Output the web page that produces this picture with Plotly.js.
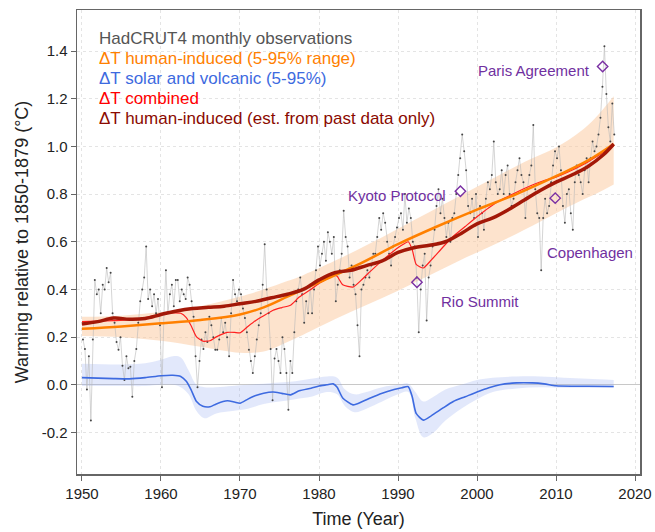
<!DOCTYPE html>
<html>
<head>
<meta charset="utf-8">
<script src="https://cdn.plot.ly/plotly-3.0.1.min.js"></script>
<style>html,body{margin:0;padding:0;background:#fff}#chart{width:655px;height:532px}</style>
</head>
<body>
<div id="chart"></div>
<script>
// HadCRUT4 observations, quarterly samples starting 1950
const obsStart = 1950;
const obsPerYear = 4;
const obsValues = [
  0.19, 0.15, -0.02, 0.12,
  -0.15, 0.19, 0.44, 0.38,
  0.40, 0.30, 0.42, 0.40,
  0.49, 0.43, 0.47, 0.30,
  0.26, 0.18, 0.147, 0.20,
  0.08, 0.02, 0.12, 0.07,
  0.076, -0.05, 0.10, 0.15,
  0.26, 0.35, 0.40, 0.45,
  0.58, 0.36, 0.40, 0.33,
  0.38, 0.30, 0.36, 0.25,
  -0.01, 0.30, 0.48, 0.30,
  0.38, 0.42, 0.33, 0.44,
  0.44, 0.35, 0.40, 0.38,
  0.36, 0.45, 0.42, 0.35,
  0.285, 0.12, -0.01, 0.10,
  0.19, 0.15, 0.22, 0.18,
  0.285, 0.25, 0.20, 0.147,
  0.147, 0.19, 0.28, 0.22,
  0.26, 0.20, 0.12, 0.30,
  0.44, 0.38, 0.35, 0.40,
  0.38, 0.32, 0.28, 0.22,
  0.147, 0.10, 0.05, 0.12,
  0.19, 0.25, 0.30, 0.42,
  0.59, 0.40, 0.30, 0.15,
  -0.065, 0.11, 0.15, 0.10,
  0.05, 0.20, 0.15, 0.05,
  -0.105, 0.10, 0.05, 0.22,
  0.35, 0.40, 0.45, 0.38,
  0.26, 0.35, 0.30, 0.42,
  0.30, 0.40, 0.48, 0.58,
  0.50, 0.55, 0.60, 0.52,
  0.64, 0.60, 0.55, 0.62,
  0.35, 0.42, 0.48, 0.55,
  0.73, 0.62, 0.58, 0.45,
  0.50, 0.42, 0.38, 0.25,
  0.12, 0.40, 0.42, 0.45,
  0.48, 0.45, 0.50, 0.55,
  0.55, 0.62, 0.70, 0.65,
  0.72, 0.68, 0.60, 0.55,
  0.50, 0.58, 0.62, 0.66,
  0.70, 0.72, 0.65, 0.80,
  0.68, 0.74, 0.70, 0.60,
  0.58, 0.45, 0.22, 0.40,
  0.50, 0.55, 0.27, 0.45,
  0.50, 0.58, 0.65, 0.75,
  0.82, 0.72, 0.78, 0.70,
  0.62, 0.68, 0.60, 0.70,
  0.72, 0.80, 0.88, 0.95,
  1.05, 0.98, 0.90, 0.75,
  0.72, 0.78, 0.70, 0.80,
  0.62, 0.75, 0.72, 0.65,
  0.78, 0.85, 0.82, 0.88,
  1.02, 0.85, 0.80, 0.82,
  0.90, 0.80, 0.88, 0.92,
  0.80, 0.75, 0.78, 0.85,
  0.90, 0.95, 0.88, 0.85,
  0.70, 0.82, 0.88, 0.92,
  1.09, 0.82, 0.72, 0.70,
  0.48, 0.70, 0.78, 0.72,
  0.75, 0.85, 0.92, 0.98,
  0.95, 1.00, 0.90, 0.75,
  0.68, 0.80, 0.82, 0.72,
  0.65, 0.85, 0.92, 0.88,
  0.85, 0.80, 0.90, 0.95,
  0.85, 0.95, 1.02, 0.98,
  1.00, 1.05, 1.12, 1.25,
  1.42, 1.22, 1.08, 1.02,
  1.18, 1.05
];

// Human-induced warming (orange) and 5-95% range
const humanYears = [1950, 1955, 1960, 1965, 1970, 1973, 1976, 1978, 1980, 1985, 1990, 1995, 2000, 2005, 2010, 2014, 2017.3];
const humanValues = [0.235, 0.245, 0.258, 0.272, 0.295, 0.325, 0.37, 0.40, 0.43, 0.505, 0.59, 0.665, 0.735, 0.80, 0.875, 0.94, 1.01];
const humanBandYears = [1950, 1955, 1960, 1965, 1970, 1973, 1976, 1978, 1982, 1986, 1990, 1994, 1998, 2002, 2006, 2010, 2013, 2015, 2017.3];
const humanUpper = [0.285, 0.29, 0.305, 0.33, 0.37, 0.40, 0.435, 0.46, 0.52, 0.585, 0.655, 0.725, 0.795, 0.865, 0.935, 0.995, 1.06, 1.12, 1.21];
const humanLower = [0.205, 0.20, 0.185, 0.16, 0.135, 0.14, 0.18, 0.21, 0.275, 0.335, 0.395, 0.46, 0.525, 0.585, 0.65, 0.72, 0.77, 0.80, 0.84];

// Solar and volcanic (blue) and 5-95% range
const natYears = [1950, 1952, 1954, 1956, 1958, 1960, 1961.5, 1962.5, 1963.2, 1963.8, 1964.5, 1965.3, 1966.2, 1967, 1968.4, 1969.3, 1970, 1971, 1972, 1973, 1974.2, 1975.3, 1976.4, 1977.5, 1979, 1980, 1981, 1981.8, 1982.3, 1983, 1984.3, 1985.5, 1986.5, 1988, 1989.5, 1990.5, 1991.3, 1991.8, 1992.3, 1993.2, 1994.2, 1995.7, 1997, 1998.5, 2000, 2001.5, 2002.9, 2005, 2007, 2008.5, 2010, 2012, 2014, 2017.3];
const natValues = [0.03, 0.028, 0.026, 0.025, 0.03, 0.038, 0.04, 0.035, 0.015, -0.02, -0.07, -0.09, -0.092, -0.08, -0.067, -0.072, -0.077, -0.06, -0.045, -0.035, -0.03, -0.036, -0.042, -0.025, -0.014, -0.005, 0.0, 0.004, -0.01, -0.055, -0.084, -0.07, -0.055, -0.035, -0.02, -0.012, -0.008, -0.05, -0.12, -0.148, -0.13, -0.097, -0.07, -0.05, -0.03, -0.012, 0.0, 0.008, 0.008, 0.004, -0.004, -0.006, -0.006, -0.007];
const natBandYears = [1950, 1955, 1958, 1960, 1961.5, 1962.5, 1963.5, 1964.5, 1965.5, 1967, 1969, 1971, 1973, 1975, 1977, 1979, 1981, 1982.3, 1983.3, 1984.5, 1986, 1988, 1990, 1991.3, 1992.2, 1993.2, 1994.5, 1996, 1998, 2000, 2002, 2005, 2008, 2011, 2014, 2017.3];
const natUpper = [0.088, 0.085, 0.09, 0.105, 0.12, 0.115, 0.06, 0.0, -0.01, -0.01, -0.005, 0.0, 0.005, 0.01, 0.015, 0.025, 0.035, 0.03, -0.02, -0.04, -0.03, -0.01, 0.0, 0.005, -0.03, -0.07, -0.05, -0.02, 0.0, 0.02, 0.03, 0.035, 0.035, 0.03, 0.025, 0.02];
const natLower = [-0.005, -0.005, -0.005, 0.0, 0.0, -0.01, -0.04, -0.11, -0.14, -0.12, -0.11, -0.1, -0.08, -0.07, -0.06, -0.05, -0.03, -0.04, -0.09, -0.115, -0.1, -0.07, -0.04, -0.03, -0.14, -0.22, -0.2, -0.15, -0.1, -0.06, -0.03, -0.015, -0.01, -0.012, -0.012, -0.012];

// Combined (red), same years as natYears
const combinedValues = [0.265, 0.267, 0.269, 0.272, 0.282, 0.296, 0.302, 0.30, 0.282, 0.249, 0.201, 0.183, 0.185, 0.201, 0.22, 0.22, 0.218, 0.245, 0.27, 0.29, 0.313, 0.324, 0.334, 0.368, 0.401, 0.425, 0.445, 0.461, 0.455, 0.42, 0.41, 0.444, 0.476, 0.521, 0.562, 0.586, 0.60, 0.567, 0.505, 0.49, 0.523, 0.578, 0.623, 0.664, 0.705, 0.743, 0.773, 0.808, 0.838, 0.857, 0.871, 0.90, 0.934, 1.003];

// Human-induced estimated from past data only (dark red)
const pastYears = [1950, 1952, 1954, 1956, 1958, 1960, 1962, 1964, 1966, 1968, 1970, 1972, 1974, 1976, 1978, 1980, 1982, 1984, 1986, 1988, 1990, 1992, 1994, 1996, 1998, 2000, 2002, 2004, 2006, 2008, 2010, 2012, 2014, 2016, 2017.3];
const pastValues = [0.255, 0.265, 0.28, 0.275, 0.278, 0.295, 0.31, 0.32, 0.325, 0.33, 0.34, 0.35, 0.365, 0.38, 0.40, 0.44, 0.47, 0.48, 0.50, 0.52, 0.555, 0.575, 0.585, 0.60, 0.635, 0.675, 0.70, 0.735, 0.775, 0.815, 0.85, 0.88, 0.915, 0.965, 1.01];

// Events
const eventNames = ["Rio Summit", "Kyoto Protocol", "Copenhagen", "Paris Agreement"];
const eventYears = [1992.4, 1997.9, 2009.9, 2015.9];
const eventValues = [0.43, 0.812, 0.783, 1.335];

// Legend entries
const legendTexts = ["HadCRUT4 monthly observations", "ΔT human-induced (5-95% range)", "ΔT solar and volcanic (5-95%)", "ΔT combined", "ΔT human-induced (est. from past data only)"];
const legendColors = ["#555555", "#ff8000", "#3d6ae0", "#ff0000", "#8b0a00"];

const yTicks = [-0.2, 0.0, 0.2, 0.4, 0.6, 0.8, 1.0, 1.2, 1.4];
const yTickText = ["-0.2", "0.0", "0.2", "0.4", "0.6", "0.8", "1.0", "1.2", "1.4"];
const xTicks = [1950, 1960, 1970, 1980, 1990, 2000, 2010, 2020];

const obsYears = obsValues.map((v, i) => obsStart + (i + 0.5) / obsPerYear);

const traces = [
  {x: humanBandYears, y: humanUpper, mode: 'lines', line: {width: 0, color: 'rgba(0,0,0,0)', shape: 'spline'}, hoverinfo: 'skip'},
  {x: humanBandYears, y: humanLower, mode: 'lines', line: {width: 0, color: 'rgba(0,0,0,0)', shape: 'spline'}, fill: 'tonexty', fillcolor: 'rgba(252,200,155,0.5)', hoverinfo: 'skip'},
  {x: natBandYears, y: natUpper, mode: 'lines', line: {width: 0, color: 'rgba(0,0,0,0)', shape: 'spline'}, hoverinfo: 'skip'},
  {x: natBandYears, y: natLower, mode: 'lines', line: {width: 0, color: 'rgba(0,0,0,0)', shape: 'spline'}, fill: 'tonexty', fillcolor: 'rgba(140,165,240,0.25)', hoverinfo: 'skip'},
  {x: obsYears, y: obsValues, mode: 'lines+markers', line: {width: 0.6, color: '#b8b8b8'}, marker: {size: 2, color: '#444'}},
  {x: natYears, y: natValues, mode: 'lines', line: {width: 1.6, color: '#3d6ae0', shape: 'spline', smoothing: 0.6}},
  {x: natYears, y: combinedValues, mode: 'lines', line: {width: 1.2, color: '#ff2020', shape: 'spline', smoothing: 0.5}},
  {x: humanYears, y: humanValues, mode: 'lines', line: {width: 2.5, color: '#ff8000', shape: 'spline'}},
  {x: pastYears, y: pastValues, mode: 'lines', line: {width: 3.5, color: '#a31808', shape: 'spline'}},
  {x: eventYears, y: eventValues, mode: 'markers', marker: {symbol: 'diamond-open', size: 8, color: '#7a2fa3', line: {width: 1.4, color: '#7a2fa3'}}}
];

const annotations = legendTexts.map((t, i) => ({
  xref: 'paper', yref: 'paper', x: 0.035, y: 1 - (29 + 20 * i) / 464.3, xanchor: 'left', yanchor: 'middle',
  text: t, showarrow: false, font: {size: 17, color: legendColors[i]}
}));
const evAnchor = [
  {xanchor: 'left', ax: 22, ay: 19},
  {xanchor: 'right', ax: -12, ay: 4},
  {xanchor: 'left', ax: -10, ay: 54},
  {xanchor: 'right', ax: -11, ay: 4}
];
eventNames.forEach((n, i) => {
  annotations.push({
    x: eventYears[i], y: eventValues[i], xref: 'x', yref: 'y', text: n, showarrow: false,
    xanchor: evAnchor[i].xanchor, yanchor: 'middle', xshift: evAnchor[i].ax, yshift: -evAnchor[i].ay,
    font: {size: 15, color: '#7030a0'}
  });
});

const layout = {
  width: 655, height: 532,
  margin: {l: 77, r: 15, t: 10, b: 58},
  paper_bgcolor: '#fff', plot_bgcolor: '#fff',
  showlegend: false,
  font: {family: 'Liberation Sans, Arial, sans-serif', color: '#222'},
  xaxis: {
    range: [1949.37, 2020.63], tickvals: xTicks, ticks: 'outside', ticklen: 5, tickcolor: '#666',
    showline: true, mirror: true, linecolor: '#666', linewidth: 1.5,
    showgrid: true, gridcolor: '#e4e4e4', griddash: 'dot', zeroline: false,
    tickfont: {size: 15, color: '#222'},
    title: {text: 'Time (Year)', font: {size: 18, color: '#222'}, standoff: 12}
  },
  yaxis: {
    range: [-0.374, 1.572], tickvals: yTicks, ticktext: yTickText, ticks: 'outside', ticklen: 5, tickcolor: '#666',
    showline: true, mirror: true, linecolor: '#666', linewidth: 1.5,
    showgrid: true, gridcolor: '#e4e4e4', griddash: 'dot',
    zeroline: true, zerolinecolor: '#c8c8c8', zerolinewidth: 1,
    tickfont: {size: 15, color: '#222'},
    title: {text: 'Warming relative to 1850-1879 (°C)', font: {size: 18, color: '#222'}, standoff: 8}
  },
  annotations: annotations
};

Plotly.newPlot('chart', traces, layout, {displayModeBar: false, staticPlot: true});
</script>
</body>
</html>
